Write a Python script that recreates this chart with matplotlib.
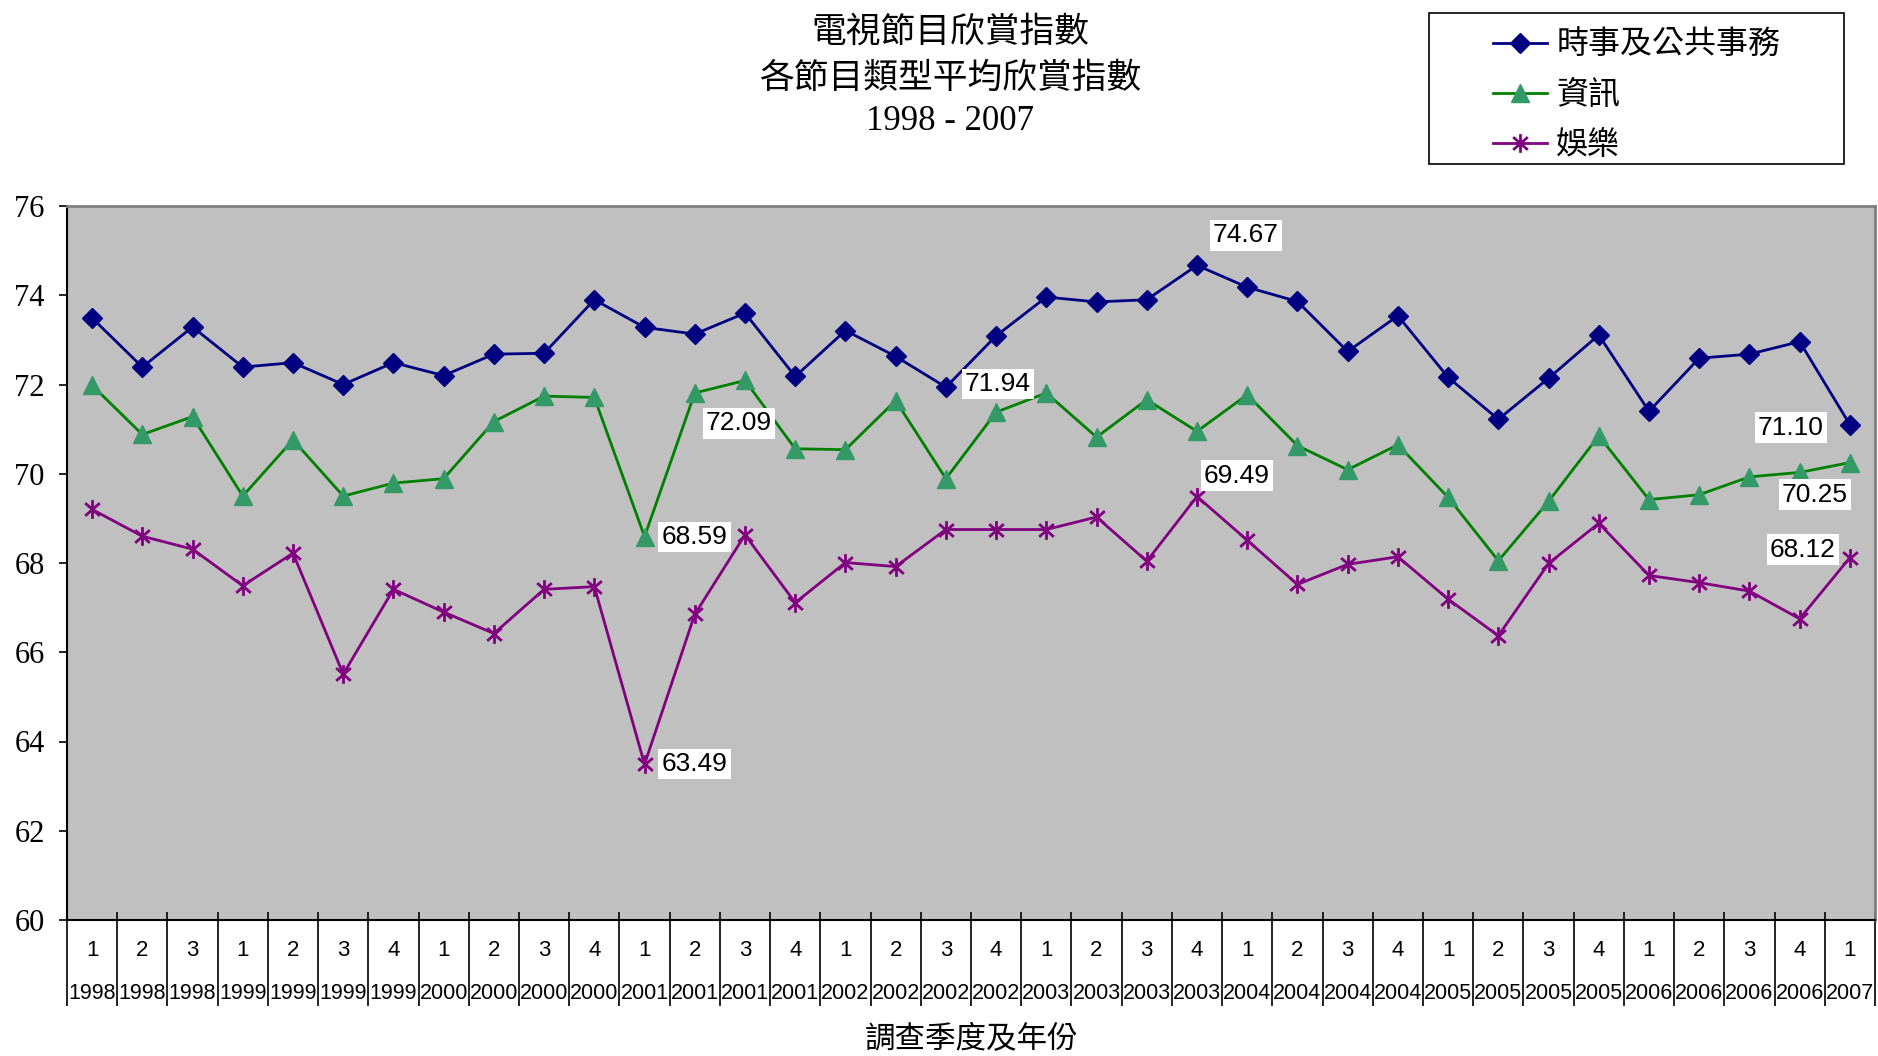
import matplotlib
matplotlib.use('Agg')
import matplotlib.pyplot as plt
from matplotlib.path import Path
from matplotlib.patches import Rectangle

# ---------------- data ----------------
quarters = ['1', '2', '3',
            '1', '2', '3', '4',
            '1', '2', '3', '4',
            '1', '2', '3', '4',
            '1', '2', '3', '4',
            '1', '2', '3', '4',
            '1', '2', '3', '4',
            '1', '2', '3', '4',
            '1', '2', '3', '4',
            '1']
years = (['1998'] * 3 + ['1999'] * 4 + ['2000'] * 4 + ['2001'] * 4 + ['2002'] * 4 +
         ['2003'] * 4 + ['2004'] * 4 + ['2005'] * 4 + ['2006'] * 4 + ['2007'])

public_affairs = [73.49, 72.39, 73.29,
                  72.39, 72.49, 72.00, 72.49,
                  72.20, 72.68, 72.70, 73.90,
                  73.28, 73.13, 73.60, 72.18,
                  73.21, 72.63, 71.94, 73.09,
                  73.96, 73.85, 73.90, 74.67,
                  74.18, 73.86, 72.74, 73.54,
                  72.16, 71.22, 72.14, 73.11,
                  71.40, 72.59, 72.68, 72.96,
                  71.10]
information = [71.98, 70.88, 71.28,
               69.50, 70.76, 69.50, 69.79,
               69.89, 71.17, 71.74, 71.71,
               68.59, 71.81, 72.09, 70.56,
               70.54, 71.64, 69.89, 71.38,
               71.81, 70.82, 71.66, 70.95,
               71.77, 70.63, 70.09, 70.65,
               69.47, 68.05, 69.38, 70.85,
               69.42, 69.53, 69.93, 70.03,
               70.25]
entertainment = [69.20, 68.60, 68.31,
                 67.49, 68.22, 65.51, 67.41,
                 66.90, 66.42, 67.41, 67.47,
                 63.49, 66.85, 68.63, 67.11,
                 68.01, 67.92, 68.75, 68.75,
                 68.75, 69.03, 68.04, 69.49,
                 68.51, 67.52, 67.97, 68.14,
                 67.19, 66.37, 67.99, 68.89,
                 67.72, 67.56, 67.37, 66.75,
                 68.12]
series_names = ['時事及公共事務', '資訊', '娛樂']

y_ticks = [60, 62, 64, 66, 68, 70, 72, 74, 76]
title_lines = ['電視節目欣賞指數', '各節目類型平均欣賞指數', '1998 - 2007']
x_title = '調查季度及年份'

# annotated points: (series index, point index, offset in pixels)
annotations = [
    (1, 13, (-6, -43)),
    (1, 11, (50, 0)),
    (2, 11, (50, 0)),
    (0, 17, (52, 3)),
    (0, 22, (49, 30)),
    (2, 22, (40, 21)),
    (0, 35, (-59, -3)),
    (1, 35, (-35, -32)),
    (2, 35, (-47, 8)),
]

# ---------------- style ----------------
CJK = ['Noto Sans CJK TC', 'DejaVu Sans']
SERIF_CJK = ['Liberation Serif', 'Noto Sans CJK TC']
plt.rcParams['font.family'] = CJK

W, H = 1878, 1056
fig = plt.figure(figsize=(W / 100, H / 100), dpi=100)
fig.patch.set_facecolor('white')

left, right, top, bottom = 67, 1875, 206, 920
ax = fig.add_axes([left / W, 1 - bottom / H, (right - left) / W, (bottom - top) / H])
ax.set_facecolor('#C0C0C0')

asterisk = Path([(0, -1), (0, 1), (-0.78, -0.68), (0.78, 0.68), (-0.78, 0.68), (0.78, -0.68)],
                [Path.MOVETO, Path.LINETO, Path.MOVETO, Path.LINETO, Path.MOVETO, Path.LINETO])

data = [public_affairs, information, entertainment]
styles = [
    dict(color='#000080', marker='D', markersize=10.5, markerfacecolor='#000080', markeredgecolor='#000080'),
    dict(color='#008000', marker='^', markersize=12.5, markerfacecolor='#339966', markeredgecolor='#339966'),
    dict(color='#800080', marker=asterisk, markersize=13.5, markerfacecolor='none', markeredgecolor='#800080',
         markeredgewidth=2.0),
]
x = list(range(len(quarters)))
lines = []
for vals, name, st in zip(data, series_names, styles):
    ln, = ax.plot(x, vals, linewidth=2.0, label=name, clip_on=False, **st)
    lines.append(ln)

ax.set_xlim(-0.5, len(quarters) - 0.5)
ax.set_ylim(60, 76)
ax.set_yticks(y_ticks)
ax.set_yticklabels([str(v) for v in y_ticks], fontfamily='Liberation Serif', fontsize=22)
ax.tick_params(axis='y', direction='out', length=6, width=1.2, pad=10, colors='black')

bounds = [i - 0.5 for i in range(len(quarters) + 1)]
ax.set_xticks(bounds)
ax.set_xticklabels([])
ax.tick_params(axis='x', direction='in', length=6, width=1.2)

# separators of the category table below the axis
trans = ax.get_xaxis_transform()
ax.vlines(bounds, -0.121, 0, transform=trans, colors='black', linewidth=1.2, clip_on=False)
for i, (q, yr) in enumerate(zip(quarters, years)):
    ax.text(i, -0.043, q, transform=trans, ha='center', va='center',
            fontfamily='Liberation Sans', fontsize=16)
    ax.text(i, -0.103, yr, transform=trans, ha='center', va='center',
            fontfamily='Liberation Sans', fontsize=15.5)

for side in ['left', 'bottom']:
    ax.spines[side].set_color('black')
    ax.spines[side].set_linewidth(1.5)
for side in ['top', 'right']:
    ax.spines[side].set_color('#808080')
    ax.spines[side].set_linewidth(2.0)

# data labels
for si, pi, off in annotations:
    v = data[si][pi]
    ax.annotate(f'{v:.2f}', xy=(pi, v), xytext=off, textcoords='offset pixels',
                ha='center', va='center', fontfamily='Liberation Sans', fontsize=19,
                bbox=dict(boxstyle='square,pad=0.12', facecolor='white', edgecolor='none'))

# titles
fig.text(950 / W, 1 - 33 / H, title_lines[0], ha='center', va='center', fontsize=25, family=SERIF_CJK)
fig.text(950 / W, 1 - 79 / H, title_lines[1], ha='center', va='center', fontsize=25, family=SERIF_CJK)
fig.text(950 / W, 1 - 121 / H, title_lines[2], ha='center', va='center', fontsize=25, family=SERIF_CJK)
fig.text(972 / W, 1 - 1040 / H, x_title, ha='center', va='center', fontsize=22, family=CJK)

# legend
fig.patches.append(Rectangle((1429 / W, 1 - 164 / H), (1844 - 1429) / W, (164 - 13) / H,
                             transform=fig.transFigure, facecolor='white', edgecolor='black',
                             linewidth=1.2, zorder=0))
leg = fig.legend(handles=lines, labels=series_names, loc='center',
                 bbox_to_anchor=((1429 + 1844) / 2 / W, 1 - (13 + 164) / 2 / H - 0.006),
                 frameon=False, fontsize=23, handlelength=1.7, handletextpad=0.3,
                 labelspacing=0.56, borderpad=0.2)

fig.savefig('out.png', dpi=100, facecolor='white')
